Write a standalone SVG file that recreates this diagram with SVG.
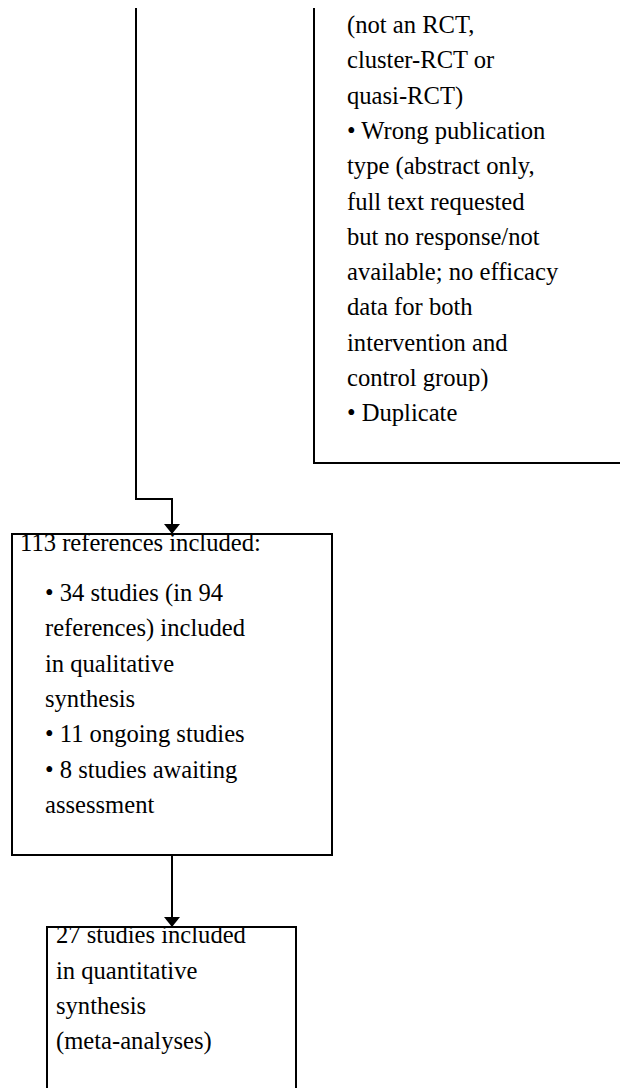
<svg xmlns="http://www.w3.org/2000/svg" width="620" height="1088" viewBox="0 0 620 1088">
<style>
.box{fill:none;stroke:#000;stroke-width:2}
.ln{fill:none;stroke:#000;stroke-width:2}
text{font-family:"Liberation Serif","Times New Roman",serif;font-size:24.6px;fill:#000}
</style>
<defs>
<marker id="arr" markerWidth="10" markerHeight="16" refX="10" refY="8" orient="auto" markerUnits="userSpaceOnUse">
<path d="M0,0 L10,8 L0,16 Z" fill="#000"/>
</marker>
</defs>
<g id="connectors">
<path class="ln" d="M136,8 V499 H172 V534" marker-end="url(#arr)"/>
<path class="ln" d="M172,855 V927" marker-end="url(#arr)"/>
</g>
<g id="excluded">
<path class="box" d="M314,8 V463 H621"/>
<text x="347" y="33">(not an RCT,</text>
<text x="347" y="68.3">cluster-RCT or</text>
<text x="347" y="103.6">quasi-RCT)</text>
<text x="347" y="138.9">• Wrong publication</text>
<text x="347" y="174.2">type (abstract only,</text>
<text x="347" y="209.5">full text requested</text>
<text x="347" y="244.8">but no response/not</text>
<text x="347" y="280.1">available; no efficacy</text>
<text x="347" y="315.4">data for both</text>
<text x="347" y="350.7">intervention and</text>
<text x="347" y="386">control group)</text>
<text x="347" y="421.3">• Duplicate</text>
</g>
<g id="included">
<rect class="box" x="12" y="534" width="320" height="321"/>
<text x="20" y="550.5">113 references included:</text>
<text x="45" y="601">• 34 studies (in 94</text>
<text x="45" y="636.3">references) included</text>
<text x="45" y="671.6">in qualitative</text>
<text x="45" y="706.9">synthesis</text>
<text x="45" y="742.2">• 11 ongoing studies</text>
<text x="45" y="777.5">• 8 studies awaiting</text>
<text x="45" y="812.8">assessment</text>
</g>
<g id="quantitative">
<path class="box" d="M47,1089 V927 H296 V1089"/>
<text x="56" y="943.3">27 studies included</text>
<text x="56" y="978.6">in quantitative</text>
<text x="56" y="1013.9">synthesis</text>
<text x="56" y="1049.2">(meta-analyses)</text>
</g>
</svg>
